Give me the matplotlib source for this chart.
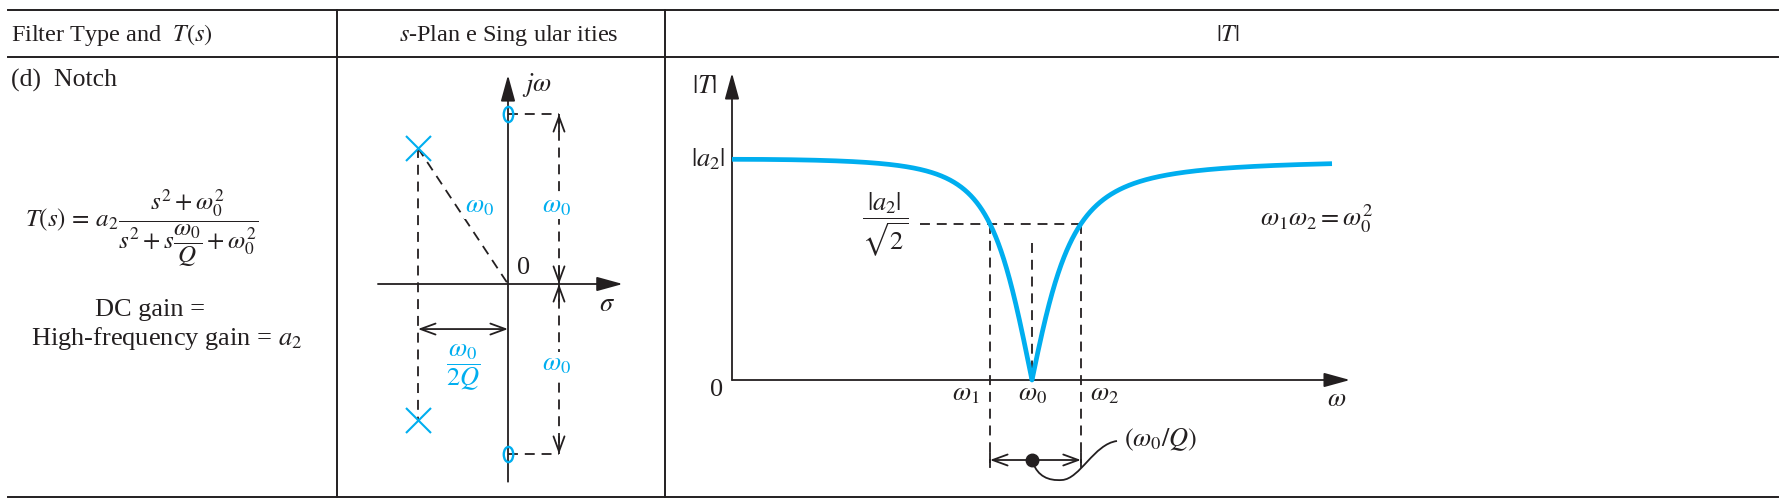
import numpy as np
import matplotlib.pyplot as plt
from matplotlib.patches import PathPatch
from matplotlib.path import Path
from matplotlib.transforms import Affine2D

plt.rcParams['font.family'] = ['Liberation Serif', 'DejaVu Serif']
plt.rcParams['mathtext.fontset'] = 'stix'

INK = '#231f20'
CYAN = '#00aeef'

# notch filter, normalised so that omega_0 = 1
a2 = 1.0
w0 = 1.0
Q = 3.3

# s-plane singularities (units of omega_0)
zeros_sigma = [0.0, 0.0]
zeros_omega = [1.0, -1.0]
poles_sigma = [-0.53, -0.53]
poles_omega = [0.80, -0.80]

# frequency range of the |T| sketch
w = np.linspace(0.0, 2.0, 2001)
s = 1j * w
T = a2 * (s**2 + w0**2) / (s**2 + s * w0 / Q + w0**2)
mag = np.abs(T)

# half-power frequencies
w1 = w0 * (np.sqrt(1 + 1 / (4 * Q**2)) - 1 / (2 * Q))
w2 = w0 * (np.sqrt(1 + 1 / (4 * Q**2)) + 1 / (2 * Q))
half = abs(a2) / np.sqrt(2)

W, H = 1785, 499
fig = plt.figure(figsize=(W / 100, H / 100), dpi=100)


def rect(x0, y0, x1, y1):
    return [x0 / W, 1 - y1 / H, (x1 - x0) / W, (y1 - y0) / H]


def arrow(ax, start, end, style='-|>,head_length=0.8,head_width=0.22', ms=20, lw=1.3):
    ax.annotate('', xy=end, xytext=start,
                arrowprops=dict(arrowstyle=style, mutation_scale=ms, lw=lw,
                                color=INK, shrinkA=0, shrinkB=0))


dash = (0, (5.5, 3.8))
open_head = '->,head_length=0.6,head_width=0.22'
open_both = '<->,head_length=0.6,head_width=0.22'
fs = 19

# ---- table frame and text column ----
base = fig.add_axes([0, 0, 1, 1])
base.set_xlim(0, W)
base.set_ylim(H, 0)
base.axis('off')

for y in [10, 57, 497]:
    base.plot([8, 1778], [y, y], color=INK, lw=1.4)
for x in [337, 665]:
    base.plot([x, x], [10, 497], color=INK, lw=1.4)

base.text(11, 35, r'Filter Type and  $T(s)$', fontsize=17.5, color=INK, ha='left', va='center')
base.text(509, 35, r'$s$-Plan e Sing ular ities', fontsize=17.5, color=INK, ha='center', va='center')
base.text(1228, 35, r'$|T|$', fontsize=17.5, color=INK, ha='center', va='center')
base.text(11, 80, '(d)  Notch', fontsize=18.5, color=INK, ha='left', va='center')

base.text(25, 228, r'$T(s)\,=\,a_2\dfrac{s^2+\omega_0^2}{s^2+s\dfrac{\omega_0}{Q}+\omega_0^2}$',
          fontsize=18, color=INK, ha='left', va='center')
base.text(150, 310, 'DC gain =', fontsize=fs, color=INK, ha='center', va='center')
base.text(167, 338, r'High-frequency gain = $a_2$', fontsize=fs, color=INK, ha='center', va='center')

# ---- s-plane ----
u = 170.0
sp = fig.add_axes(rect(340, 60, 662, 495))
sp.set_xlim((340 - 508) / u, (662 - 508) / u)
sp.set_ylim((284 - 495) / u, (284 - 60) / u)
sp.axis('off')

arrow(sp, (-0.765, 0), (0.675, 0))
arrow(sp, (0, -1.163), (0, 1.229))
sp.text(0.08, 1.17, r'$j\omega$', fontsize=fs, color=INK, ha='left', va='center')
sp.text(0.58, -0.125, r'$\sigma$', fontsize=fs, color=INK, ha='center', va='center')
sp.text(0.09, 0.095, '0', fontsize=fs, color=INK, ha='center', va='center')

ps, pw = poles_sigma[0], poles_omega[0]
sp.plot([ps, 0], [pw, 0], color=INK, lw=1.3, ls=dash)
sp.plot([ps, ps], [pw, poles_omega[1]], color=INK, lw=1.3, ls=dash)
arrow(sp, (ps, -0.265), (0, -0.265), style=open_both, ms=18)
sp.text(-0.266, -0.49, r'$\dfrac{\omega_0}{2Q}$', fontsize=fs, color=CYAN, ha='center', va='center')
sp.text(-0.165, 0.455, r'$\omega_0$', fontsize=fs, color=CYAN, ha='center', va='center',
        bbox=dict(fc='white', ec='none', pad=1))

xd = 0.30
for zw in zeros_omega:
    sp.plot([0, xd], [zw, zw], color=INK, lw=1.3, ls=dash)
sp.plot([xd, xd], [zeros_omega[0], zeros_omega[1]], color=INK, lw=1.3, ls=dash)
for y0, y1 in [(0.9, 1.0), (0.1, 0.0), (-0.1, 0.0), (-0.9, -1.0)]:
    arrow(sp, (xd, y0), (xd, y1), style=open_head, ms=18)
for yl in [0.455, -0.475]:
    sp.text(xd - 0.015, yl, r'$\omega_0$', fontsize=fs, color=CYAN, ha='center', va='center',
            bbox=dict(fc='white', ec='none', pad=1))

oval = Path.unit_circle().transformed(Affine2D().scale(0.62, 1.0))
sp.plot(zeros_sigma, zeros_omega, ls='none', marker=oval, ms=11, mfc='none',
        mec=CYAN, mew=1.7, zorder=5)
sp.plot(poles_sigma, poles_omega, ls='none', marker='x', ms=18, mec=CYAN, mew=1.5, zorder=5)

# ---- |T| sketch ----
ax = fig.add_axes(rect(690, 60, 1400, 495))
px, py = 300.0, 220.7
ax.set_xlim((690 - 732) / px, (1400 - 732) / px)
ax.set_ylim((380 - 495) / py, (380 - 60) / py)
ax.axis('off')

arrow(ax, (0, 0), (2.06, 0))
arrow(ax, (0, 0), (0, 1.391))
ax.plot(w, mag, color=CYAN, lw=3.4, solid_capstyle='butt', zorder=4)

ax.text(-0.09, 1.328, r'$|T|$', fontsize=fs, color=INK, ha='center', va='center')
ax.text(-0.08, abs(a2), r'$|a_2|$', fontsize=fs, color=INK, ha='center', va='center')
ax.text(-0.053, -0.045, '0', fontsize=fs, color=INK, ha='center', va='center')
ax.text(2.017, -0.09, r'$\omega$', fontsize=fs, color=INK, ha='center', va='center')
ax.text(w1 - 0.08, -0.07, r'$\omega_1$', fontsize=fs, color=INK, ha='center', va='center')
ax.text(w0, -0.07, r'$\omega_0$', fontsize=fs, color=INK, ha='center', va='center')
ax.text(w2 + 0.08, -0.07, r'$\omega_2$', fontsize=fs, color=INK, ha='center', va='center')
ax.text(0.51, half, r'$\dfrac{|a_2|}{\sqrt{2}}$', fontsize=fs, color=INK, ha='center', va='center')
ax.text(1.95, 0.73, r'$\omega_1\omega_2 = \omega_0^2$', fontsize=fs, color=INK, ha='center', va='center')

ax.plot([0.627, w2], [half, half], color=INK, lw=1.3, ls=dash)
ybar = -0.3625
for wx in [w1, w2]:
    ax.plot([wx, wx], [half, ybar - 0.012], color=INK, lw=1.3, ls=dash)
    ax.plot([wx, wx], [ybar - 0.03, ybar + 0.03], color=INK, lw=1.3)
ax.plot([w0, w0], [0.62, 0], color=INK, lw=1.3, ls=dash)
arrow(ax, (w1, ybar), (w2, ybar), style=open_both, ms=18)
ax.plot([w0], [ybar], 'o', color=INK, ms=9, zorder=5)
ax.text(1.427, -0.272, r'$(\omega_0/Q)$', fontsize=fs, color=INK, ha='center', va='center')

# leader from the bandwidth marker to its label
verts = [(1033, 463), (1038, 476), (1048, 481), (1062, 480),
         (1080, 479), (1094, 444), (1117, 441)]
codes = [Path.MOVETO] + [Path.CURVE4] * 6
base.add_patch(PathPatch(Path(verts, codes), fc='none', ec=INK, lw=1.3))

fig.savefig('out.png', dpi=100)
